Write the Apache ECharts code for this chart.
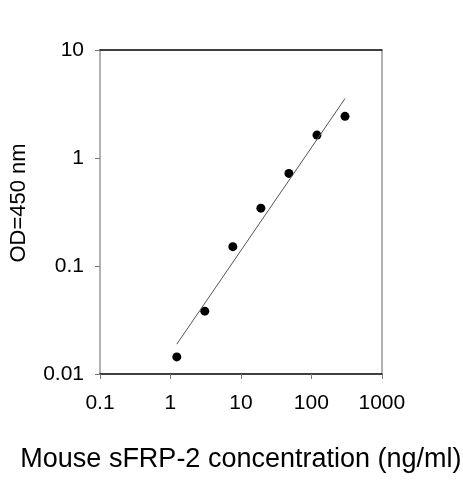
<!DOCTYPE html>
<html>
    <head>
        <meta charset="utf-8"/>
        <script src="https://cdn.jsdelivr.net/npm/echarts@6/dist/echarts.min.js"></script>
        <style>
            html, body { margin: 0; padding: 0; background: #fff; }
        </style>
    </head>
	<body>
        <div id="main" style="width: 463px;height: 480px;"></div>
		<script>
			// standard curve: concentration (ng/ml) vs OD450
			var conc = [1.23, 3.07, 7.68, 19.2, 48, 120, 300];
			var od = [0.0144, 0.0382, 0.151, 0.343, 0.72, 1.63, 2.43];
			// fitted line end points
			var fitConc = [1.23, 300];
			var fitOd = [0.0189, 3.55];

			var points = conc.map(function (c, i) { return [c, od[i]]; });
			var fit = fitConc.map(function (c, i) { return [c, fitOd[i]]; });

			// plain numbers, no thousands separator
			function plain(v) { return String(+v.toPrecision(6)); }

			var font = 'Liberation Sans, Arial, sans-serif';
			var myChart = echarts.init(document.getElementById('main'));
			myChart.setOption({
			  animation: false,
			  grid: { left: 97, right: 80, top: 50, bottom: 106 },
			  xAxis: [
				{
				  type: 'log',
				  logBase: 10,
				  min: 0.1,
				  max: 1000,
				  name: 'Mouse sFRP-2 concentration (ng/ml)',
				  nameLocation: 'middle',
				  nameGap: 72,
				  nameTextStyle: { fontFamily: font, fontSize: 27, color: '#000' },
				  axisLine: { lineStyle: { color: '#000', width: 1.5 } },
				  axisTick: { length: 5, lineStyle: { color: '#777' } },
				  axisLabel: { fontFamily: font, fontSize: 21, color: '#000', margin: 19, formatter: plain },
				  minorTick: { show: false },
				  splitLine: { show: false }
				},
				{
				  type: 'log',
				  position: 'top',
				  min: 0.1,
				  max: 1000,
				  axisLine: { lineStyle: { color: '#000', width: 1.5 } },
				  axisTick: { show: false },
				  axisLabel: { show: false },
				  splitLine: { show: false }
				}
			  ],
			  yAxis: [
				{
				  type: 'log',
				  logBase: 10,
				  min: 0.01,
				  max: 10,
				  name: 'OD=450 nm',
				  nameLocation: 'middle',
				  nameGap: 70,
				  nameTextStyle: { fontFamily: font, fontSize: 22, color: '#000', padding: [0, 0, 0, 18] },
				  axisLine: { lineStyle: { color: '#999', width: 1.5 } },
				  axisTick: { length: 5, lineStyle: { color: '#777' } },
				  axisLabel: { fontFamily: font, fontSize: 21, color: '#000', margin: 16, formatter: plain },
				  splitLine: { show: false }
				},
				{
				  type: 'log',
				  position: 'right',
				  min: 0.01,
				  max: 10,
				  axisLine: { lineStyle: { color: '#999', width: 1.5 } },
				  axisTick: { show: false },
				  axisLabel: { show: false },
				  splitLine: { show: false }
				}
			  ],
			  series: [
				{
				  name: 'fit',
				  type: 'line',
				  data: fit,
				  showSymbol: false,
				  lineStyle: { color: '#555', width: 1 }
				},
				{
				  name: 'OD',
				  type: 'scatter',
				  data: points,
				  symbolSize: 9,
				  itemStyle: { color: '#000', opacity: 1 }
				}
			  ]
			});
		</script>
  </body>
</html>
